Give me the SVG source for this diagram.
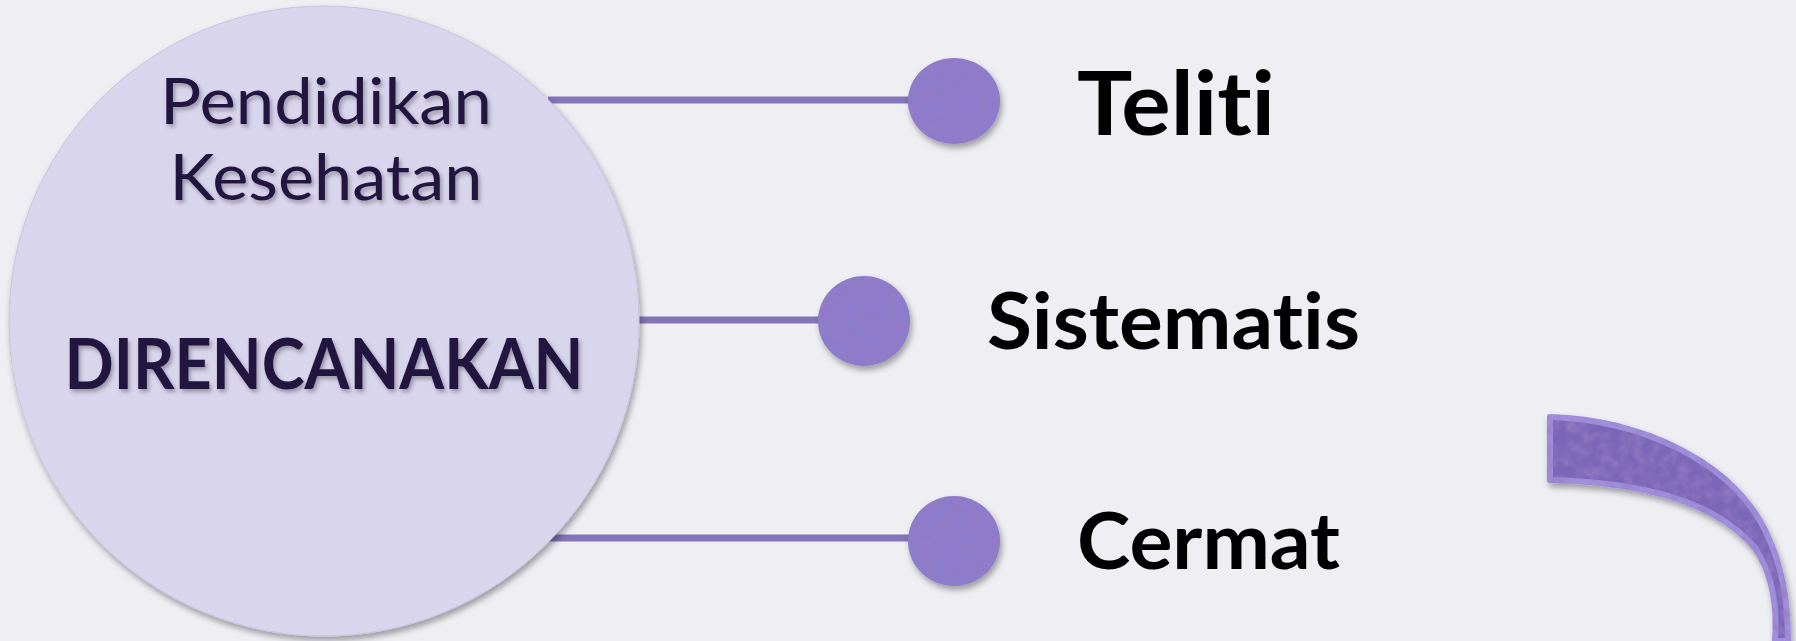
<svg xmlns="http://www.w3.org/2000/svg" width="1796" height="641" viewBox="0 0 1796 641">
<defs>
<filter id="shadow" x="-20%" y="-20%" width="140%" height="140%">
<feDropShadow dx="2" dy="4" stdDeviation="3" flood-color="#000" flood-opacity="0.35"/>
</filter>
<filter id="tshadow" x="-10%" y="-30%" width="120%" height="160%">
<feDropShadow dx="2" dy="3" stdDeviation="2" flood-color="#000" flood-opacity="0.3"/>
</filter>
<filter id="texture" x="-20%" y="-20%" width="140%" height="140%">
<feTurbulence type="fractalNoise" baseFrequency="0.09" numOctaves="2" seed="3" result="n"/>
<feColorMatrix in="n" type="matrix" values="0 0 0 0 0.3  0 0 0 0 0.2  0 0 0 0 0.55  0 0 0 -1.6 1.0" result="spots"/>
<feComposite in="spots" in2="SourceGraphic" operator="in" result="tex"/>
<feMerge result="m"><feMergeNode in="SourceGraphic"/><feMergeNode in="tex"/></feMerge>
<feDropShadow dx="2" dy="4" stdDeviation="3" flood-color="#000" flood-opacity="0.35"/>
</filter>
<style>
.conn{stroke:#8474b9;stroke-width:7;fill:none}
.ball{fill:#8d7bcb}
.lbl{font-family:Lato,"Open Sans",sans-serif;font-weight:bold;fill:#000;font-variant-ligatures:none}
.ctext{font-family:Lato,"Open Sans",sans-serif;fill:#22163f;text-anchor:middle;font-variant-ligatures:none}
</style>
</defs>
<rect x="0" y="0" width="1796" height="641" fill="#efeef3"/>
<g id="connectors">
<line class="conn" x1="548" y1="100" x2="920" y2="100"/>
<line class="conn" x1="630" y1="320" x2="830" y2="320"/>
<line class="conn" x1="548" y1="538" x2="920" y2="538"/>
</g>
<g id="main">
<circle cx="324" cy="321" r="315" fill="#d9d5ec" stroke="#c9c3e2" stroke-width="1" filter="url(#shadow)"/>
<g filter="url(#tshadow)">
<text class="ctext" x="326" y="124" font-size="63" textLength="332" lengthAdjust="spacingAndGlyphs">Pendidikan</text>
<text class="ctext" x="326" y="200" font-size="63" textLength="313" lengthAdjust="spacingAndGlyphs">Kesehatan</text>
<text class="ctext" x="324" y="389" font-size="71" font-weight="bold" textLength="519" lengthAdjust="spacingAndGlyphs">DIRENCANAKAN</text>
</g>
</g>
<g id="teliti">
<ellipse class="ball" cx="954" cy="101" rx="46" ry="43" filter="url(#texture)"/>
<text class="lbl" x="1077" y="135" font-size="88" textLength="198" lengthAdjust="spacingAndGlyphs">Teliti</text>
</g>
<g id="sistematis">
<ellipse class="ball" cx="864" cy="321" rx="46" ry="45" filter="url(#texture)"/>
<text class="lbl" x="987" y="349" font-size="78" textLength="373" lengthAdjust="spacingAndGlyphs">Sistematis</text>
</g>
<g id="cermat">
<ellipse class="ball" cx="954" cy="541" rx="46" ry="45" filter="url(#texture)"/>
<text class="lbl" x="1077" y="569" font-size="78" textLength="263" lengthAdjust="spacingAndGlyphs">Cermat</text>
</g>
<g id="arc">
<path d="M1550,417 C1640,420 1730,460 1765,530 C1782,565 1788,600 1788,641 L1775,641 C1778,600 1770,570 1755,548 C1715,500 1640,482 1550,480 Z" fill="#7b66b7" stroke="#a08fdc" stroke-width="6" stroke-linejoin="round" filter="url(#texture)"/>
</g>
</svg>
